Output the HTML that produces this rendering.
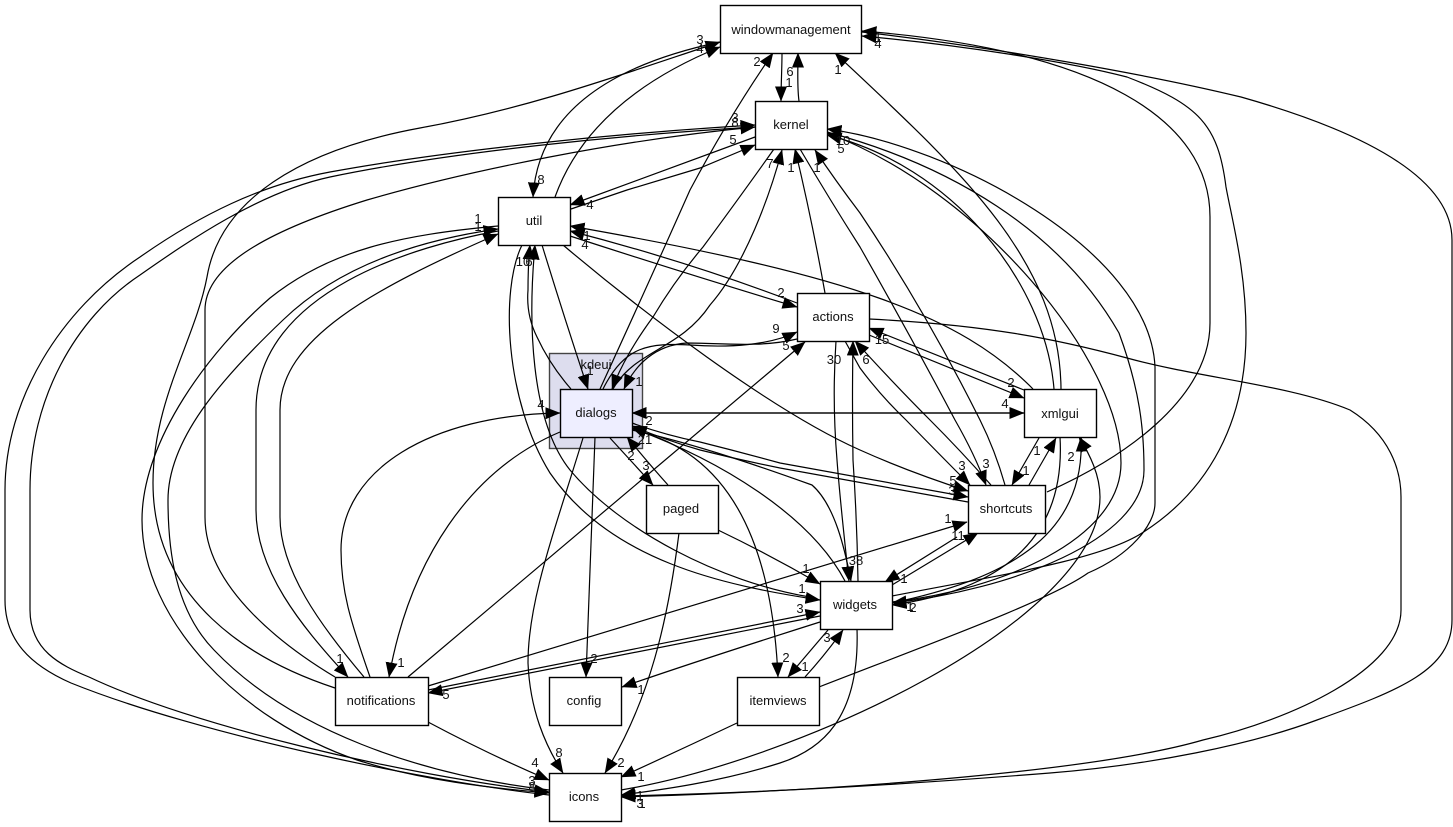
<!DOCTYPE html>
<html><head><meta charset="utf-8"><style>
html,body{margin:0;padding:0;background:#fff;width:1453px;height:827px;overflow:hidden}
svg{display:block}
text{font-family:"Liberation Sans",Arial,sans-serif;fill:#111}
.n text{font-size:13px;text-anchor:middle}
.l text{font-size:13px;text-anchor:middle}
.e path{fill:none;stroke:#000;stroke-width:1.2;marker-end:url(#a)}
.n rect{fill:#fff;stroke:#000;stroke-width:1.4}
</style></head><body>
<svg width="1453" height="827" viewBox="0 0 1453 827" xmlns="http://www.w3.org/2000/svg">
<defs><marker id="a" markerUnits="userSpaceOnUse" markerWidth="15" markerHeight="12" refX="14.5" refY="6" orient="auto" viewBox="0 0 15 12"><path d="M0,0L15,6L0,12z" fill="#000"/></marker></defs>
<rect x="549.5" y="353.5" width="93" height="95" fill="#ddddee" stroke="#444" stroke-width="1.4"/>
<text x="596" y="369" font-size="13" text-anchor="middle">kdeui</text>
<g class="e">
<path d="M782,53C782,68 781,85 781,101"/>
<path d="M799,101C797,87 798,70 798,53"/>
<path d="M555,197Q590,100 720,47"/>
<path d="M720,42Q540,80 533,197"/>
<path d="M549,795C430,782 200,735 71,683C30,665 5,640 5,600L5,490C5,400 60,310 140,257C200,215 260,185 330,172C450,150 620,133 755,125"/>
<path d="M755,127C620,135 450,152 330,177C260,192 190,240 140,275C75,318 30,400 30,490L30,610C30,650 60,665 89,677C190,725 400,775 549,792"/>
<path d="M335,677C290,650 205,590 205,517L205,310C205,265 270,230 367,200C470,170 620,140 755,127"/>
<path d="M335,688C250,660 153,600 153,483C153,400 195,340 207,277C220,200 300,150 420,128C530,108 620,75 720,42"/>
<path d="M498,226C400,235 330,250 270,298C210,350 142,440 142,520C142,620 240,720 357,760C420,780 490,788 549,793"/>
<path d="M549,790C420,775 290,730 214,650C175,610 168,550 168,500C168,440 220,380 283,320C340,265 420,240 498,229"/>
<path d="M498,231C420,245 256,290 256,410L256,510C256,570 300,625 348,677"/>
<path d="M364,677C320,625 280,570 280,517L280,410C280,340 370,290 498,234"/>
<path d="M862,32C1000,48 1150,75 1241,97C1340,125 1452,170 1452,240L1452,620C1452,670 1400,690 1317,720C1250,745 1150,765 1050,773C900,785 760,793 621,796"/>
<path d="M1047,492C1120,460 1210,400 1210,323L1210,217C1210,120 1100,50 862,31"/>
<path d="M892,596C1000,575 1100,560 1142,533C1210,490 1246,420 1246,333C1246,270 1232,220 1226,187C1218,125 1200,105 1127,77C1070,62 960,45 862,36"/>
<path d="M869,319C990,325 1060,340 1127,358C1200,378 1290,385 1350,410C1390,435 1401,470 1401,497L1401,610C1401,670 1290,720 1203,740C1100,770 860,790 621,797"/>
<path d="M819,687C940,640 1050,600 1088,573C1130,555 1155,525 1155,503L1155,367C1150,250 950,145 827,129"/>
<path d="M827,132C950,165 1060,230 1119,333C1140,390 1144,430 1144,470C1144,540 1010,590 892,603"/>
<path d="M892,602C1000,590 1121,540 1121,463C1121,360 980,190 827,133"/>
<path d="M1054,389C1045,280 950,165 827,135"/>
<path d="M1061,389C1060,260 960,170 835,53"/>
<path d="M1033,389C960,315 850,275 570,226"/>
<path d="M1060,437C1066,540 1000,590 892,605"/>
<path d="M892,603C1000,580 1086,540 1081,437"/>
<path d="M621,790C800,760 1100,620 1100,497C1100,475 1090,455 1079,437"/>
<path d="M857,629C860,720 820,750 780,763C720,782 660,790 621,795"/>
<path d="M800,149Q830,200 860,247Q910,335 955,420Q975,455 986,485"/>
<path d="M1005,485Q995,450 980,420Q925,310 860,213Q835,180 815,150"/>
<path d="M845,341L860,368Q880,395 906,420Q940,455 970,485"/>
<path d="M991,485Q960,450 930,420Q895,385 855,341"/>
<path d="M869,335L1024,398"/>
<path d="M1024,390L869,328"/>
<path d="M797,303Q690,262 570,231"/>
<path d="M570,236Q690,275 797,307"/>
<path d="M755,137L570,205"/>
<path d="M571,209L627,190L700,168L755,145"/>
<path d="M825,293Q812,220 795,149"/>
<path d="M600,389Q650,280 690,190Q730,115 773,53"/>
<path d="M774,149Q745,190 703,247Q675,280 653,317Q625,355 612,389"/>
<path d="M613,389C635,350 680,350 710,305C745,265 770,195 782,150"/>
<path d="M603,389C625,345 650,343 690,345C730,348 770,345 797,332"/>
<path d="M797,339C760,348 720,343 687,343C655,345 635,365 624,389"/>
<path d="M522,245C500,290 505,400 550,473C610,560 720,585 820,600"/>
<path d="M810,597C720,582 620,530 570,470C530,420 528,320 535,245"/>
<path d="M571,389Q550,365 537,337Q526,315 528,290Q528,265 530,245"/>
<path d="M542,245Q565,320 588,389"/>
<path d="M563,245C640,310 770,410 860,450C900,468 940,482 968,491"/>
<path d="M610,438L653,485"/>
<path d="M668,485Q650,465 627,437"/>
<path d="M560,432C470,470 410,560 389,677"/>
<path d="M370,677C350,620 341,590 341,550C341,470 430,415 560,413"/>
<path d="M595,437Q590,560 586,677"/>
<path d="M583,438C555,530 528,600 528,663C530,710 545,745 563,773"/>
<path d="M633,430C700,445 770,500 778,677"/>
<path d="M632,413L1024,413"/>
<path d="M1024,413L632,413"/>
<path d="M632,423Q665,435 700,442Q740,452 780,463L968,497"/>
<path d="M968,502L780,468Q740,460 700,450Q665,440 632,426"/>
<path d="M632,430C700,445 770,470 812,485C835,505 845,550 851,581"/>
<path d="M845,581C810,515 720,460 632,428"/>
<path d="M718,530Q770,555 820,584"/>
<path d="M679,533C668,620 650,700 605,773"/>
<path d="M408,677L805,342"/>
<path d="M836,341Q832,400 837,460Q840,500 849,581"/>
<path d="M858,581Q857,520 853,460Q852,400 853,341"/>
<path d="M1039,438L1012,485"/>
<path d="M1029,485L1056,438"/>
<path d="M957,537L885,582"/>
<path d="M892,585L978,533"/>
<path d="M428,686L967,522"/>
<path d="M428,690L820,612"/>
<path d="M820,616L428,693"/>
<path d="M820,622Q700,660 622,687"/>
<path d="M828,630L788,677"/>
<path d="M805,677Q825,655 843,630"/>
<path d="M737,723Q680,750 621,777"/>
<path d="M428,722Q490,755 549,780"/>
</g>
<g class="n">
<rect x="720.5" y="5.5" width="141" height="48"/><text x="791" y="34">windowmanagement</text>
<rect x="755.5" y="101.5" width="72" height="48"/><text x="791" y="129">kernel</text>
<rect x="498.5" y="197.5" width="72" height="48"/><text x="534" y="225">util</text>
<rect x="797.5" y="293.5" width="72" height="48"/><text x="833" y="321">actions</text>
<rect x="560.5" y="389.5" width="72" height="48" style="fill:#eeeeff"/><text x="596" y="417">dialogs</text>
<rect x="1024.5" y="389.5" width="72" height="48"/><text x="1060" y="418">xmlgui</text>
<rect x="646.5" y="485.5" width="72" height="48"/><text x="681" y="513">paged</text>
<rect x="968.5" y="485.5" width="77" height="48"/><text x="1006" y="513">shortcuts</text>
<rect x="820.5" y="581.5" width="72" height="48"/><text x="855" y="609">widgets</text>
<rect x="335.5" y="677.5" width="93" height="48"/><text x="381" y="705">notifications</text>
<rect x="549.5" y="677.5" width="72" height="48"/><text x="584" y="705">config</text>
<rect x="737.5" y="677.5" width="82" height="48"/><text x="778" y="705">itemviews</text>
<rect x="549.5" y="773.5" width="72" height="48"/><text x="584" y="801">icons</text>
</g>
<g class="l">
<text x="700" y="44">3</text><text x="700" y="53">4</text><text x="757" y="66">2</text><text x="790" y="76">6</text><text x="789" y="87">1</text>
<text x="838" y="74">1</text><text x="878" y="48">4</text><text x="878" y="42">1</text>
<text x="735" y="122">3</text><text x="735" y="127">8</text><text x="733" y="144">5</text>
<text x="770" y="168">7</text><text x="791" y="172">1</text><text x="817" y="172">1</text>
<text x="843" y="145">10</text><text x="841" y="153">5</text>
<text x="541" y="184">8</text><text x="590" y="209">4</text>
<text x="478" y="223">1</text><text x="478" y="231">1</text>
<text x="587" y="240">1</text><text x="585" y="249">4</text>
<text x="523" y="266">10</text><text x="529" y="266">6</text>
<text x="781" y="297">2</text><text x="776" y="333">9</text><text x="786" y="350">5</text>
<text x="590" y="375">1</text><text x="639" y="386">1</text>
<text x="541" y="409">4</text><text x="649" y="425">2</text><text x="645" y="444">21</text>
<text x="631" y="460">2</text><text x="646" y="470">3</text>
<text x="834" y="364">30</text><text x="866" y="364">6</text><text x="882" y="344">15</text>
<text x="1011" y="387">2</text><text x="1005" y="408">4</text>
<text x="962" y="470">3</text><text x="986" y="468">3</text><text x="953" y="485">5</text><text x="952" y="495">3</text>
<text x="1037" y="455">1</text><text x="1026" y="475">1</text><text x="1071" y="461">2</text>
<text x="948" y="523">1</text><text x="958" y="540">11</text>
<text x="806" y="573">1</text><text x="856" y="565">38</text><text x="904" y="583">1</text>
<text x="802" y="593">1</text><text x="800" y="613">3</text>
<text x="910" y="611">1</text><text x="913" y="612">2</text>
<text x="827" y="642">3</text><text x="786" y="662">2</text><text x="805" y="671">1</text>
<text x="340" y="663">1</text><text x="401" y="667">1</text><text x="446" y="699">5</text>
<text x="594" y="663">2</text><text x="641" y="694">1</text>
<text x="535" y="767">4</text><text x="559" y="757">8</text><text x="621" y="767">2</text><text x="641" y="781">1</text>
<text x="532" y="785">3</text><text x="532" y="791">8</text>
<text x="640" y="800">1</text><text x="640" y="808">3</text><text x="642" y="808">1</text>
</g>
</svg>
</body></html>
